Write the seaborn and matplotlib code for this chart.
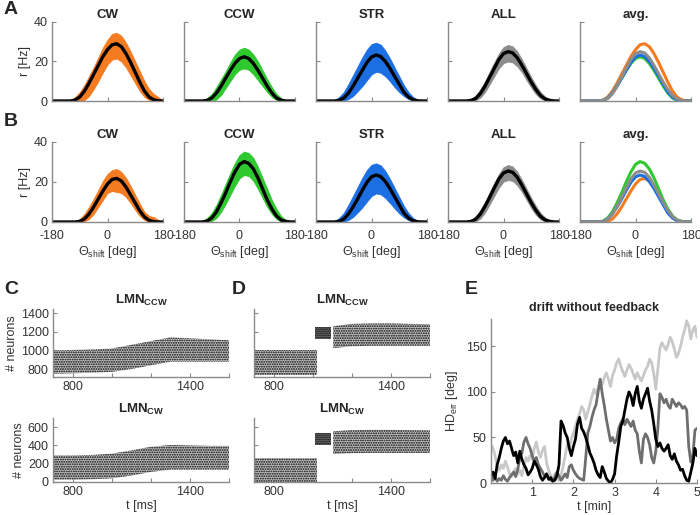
import matplotlib
matplotlib.use('Agg')
import matplotlib.pyplot as plt
import seaborn as sns

# ---- A/B: tuning curves, sampled every 15 deg from -180 to 180
theta = list(range(-180, 181, 15))

a_cw_mean = [0, 0, 0, 0, 0, 0.5, 2, 5, 9, 13.5, 18, 22.5, 26, 28.5, 29, 27.5, 24, 19.5, 14.5, 9.5, 5, 2, 0.6, 0.1, 0]
a_cw_hi = [0, 0, 0, 0, 0.3, 2, 4.5, 8, 12.5, 17, 22, 27, 31, 34, 34.5, 33, 29.5, 25, 20, 15, 10, 6, 3.5, 2, 0]
a_cw_lo = [0, 0, 0, 0, 0, 0, 0, 0.5, 2.5, 6, 10, 14.5, 18.5, 21, 21.5, 20, 17, 13, 9, 5, 2, 0.5, 0, 0, 0]

a_ccw_mean = [0, 0, 0, 0, 0, 0.3, 1.5, 4, 7.5, 11.5, 15.5, 19, 21.5, 22.4, 21.5, 19, 15.5, 11.5, 7.5, 4, 1.5, 0.4, 0, 0, 0]
a_ccw_hi = [0, 0, 0, 0, 0.3, 1.5, 3.5, 7, 11, 15, 19.5, 23.5, 26, 27, 26, 23.5, 20, 15.5, 11, 7, 3.5, 1.5, 0.5, 0, 0]
a_ccw_lo = [0, 0, 0, 0, 0, 0, 0, 0.8, 3, 6.5, 10, 13.5, 15.8, 16.5, 15.8, 13.5, 10.5, 7.5, 4.5, 2, 0.5, 0, 0, 0, 0]

a_str_mean = [0, 0, 0, 0, 0, 0.3, 1.5, 4, 7.5, 11.5, 15.5, 19.5, 22.3, 23.3, 22.5, 20, 16.5, 12.5, 8.5, 4.5, 2, 0.6, 0.1, 0, 0]
a_str_hi = [0, 0, 0, 0, 0.5, 2, 4.5, 8.5, 13, 17.5, 22, 26, 28.8, 29.5, 28.5, 25.5, 21.5, 17, 12.5, 8, 4.5, 2, 0.5, 0, 0]
a_str_lo = [0, 0, 0, 0, 0, 0, 0.2, 1, 2.5, 5, 7.5, 10.5, 13.5, 14.8, 14.3, 12.5, 10, 7, 4.5, 2.5, 1, 0.2, 0, 0, 0]

a_all_mean = [0, 0, 0, 0, 0, 0.3, 1.3, 3.8, 7.5, 12, 16.5, 21, 24, 25, 24.3, 21.8, 18, 13.8, 9.5, 5.8, 2.8, 1, 0.3, 0, 0]
a_all_hi = [0, 0, 0, 0, 0.2, 1, 2.8, 6, 10, 14.8, 19.5, 24, 27.3, 28.4, 27.6, 25, 21, 16.5, 12, 8, 4.5, 2.2, 1, 0.5, 0]
a_all_lo = [0, 0, 0, 0, 0, 0, 0.3, 1.8, 4.5, 8.5, 12.5, 16.5, 19.2, 20, 19.5, 17.5, 14.5, 10.5, 6.8, 3.5, 1.3, 0.3, 0, 0, 0]

b_cw_mean = [0, 0, 0, 0, 0, 0, 0.3, 1.5, 4, 7.5, 11.5, 15.5, 19, 21.3, 21.8, 20.5, 17.5, 13.5, 9.5, 5.5, 2.5, 0.8, 0.2, 0, 0]
b_cw_hi = [0, 0, 0, 0, 0, 0.3, 1.5, 4, 7.5, 11.5, 16, 20.5, 24, 26, 26.5, 25, 22, 18, 13.5, 9, 5, 3, 2.5, 1, 0]
b_cw_lo = [0, 0, 0, 0, 0, 0, 0, 0.3, 1.5, 4, 7.5, 11, 14.5, 15.5, 15, 14.5, 12.5, 9.5, 6, 3, 1, 0.2, 0, 0, 0]

b_ccw_mean = [0, 0, 0, 0, 0, 0.5, 2, 5, 9.5, 14.5, 20, 25, 28.8, 30.2, 29.3, 26.5, 22, 16.5, 11, 6.5, 3, 1, 0.3, 0, 0]
b_ccw_hi = [0, 0, 0, 0, 0.5, 2, 4.5, 8.5, 13.5, 19, 24.5, 29.5, 33.5, 35.2, 34.5, 32, 27.5, 22, 16.5, 11, 6.5, 3, 1, 0.2, 0]
b_ccw_lo = [0, 0, 0, 0, 0, 0, 0.5, 2, 5, 9, 13.5, 18, 21.8, 23.5, 23, 20.5, 16.5, 12, 7.5, 4, 1.5, 0.3, 0, 0, 0]

b_str_mean = [0, 0, 0, 0, 0, 0.3, 1.5, 4, 7.5, 11.5, 15.8, 19.8, 22.6, 23.5, 22.7, 20.2, 16.7, 12.6, 8.5, 4.5, 2, 0.6, 0.1, 0, 0]
b_str_hi = [0, 0, 0, 0, 0.5, 2, 4.5, 8.5, 13, 17.5, 22, 26, 28.6, 29.3, 28.3, 25.5, 21.5, 17, 12.5, 8, 4.5, 2, 0.5, 0, 0]
b_str_lo = [0, 0, 0, 0, 0, 0, 0.2, 1, 2.5, 4.8, 7.3, 10.2, 13, 14.3, 13.8, 12, 9.5, 6.8, 4.3, 2.3, 0.9, 0.2, 0, 0, 0]

b_all_mean = [0, 0, 0, 0, 0, 0.3, 1.4, 4, 7.8, 12.3, 17, 21.5, 24.5, 25.5, 24.8, 22.3, 18.3, 14, 9.6, 5.8, 2.8, 1, 0.3, 0, 0]
b_all_hi = [0, 0, 0, 0, 0.2, 1, 2.8, 6, 10, 14.8, 19.5, 24, 27.4, 28.5, 27.7, 25, 21, 16.5, 12, 8, 4.5, 2.2, 0.8, 0.2, 0]
b_all_lo = [0, 0, 0, 0, 0, 0, 0.3, 1.8, 4.7, 8.8, 13, 17.2, 20.2, 21, 20.5, 18.3, 15, 11, 7, 3.6, 1.3, 0.3, 0, 0, 0]

groups = ['CW', 'CCW', 'STR', 'ALL']
group_colors = ['#f47b20', '#2ec92e', '#1c6fe3', '#8c8c8c']

# ---- C/D: raster envelopes (neuron index band vs time)
c_t = [700, 800, 900, 1000, 1100, 1200, 1300, 1400, 1500, 1600]
c_ccw_lo = [750, 755, 760, 770, 800, 840, 880, 880, 880, 880]
c_ccw_hi = [1000, 1005, 1010, 1020, 1060, 1100, 1140, 1130, 1120, 1110]
c_cw_lo = [25, 25, 30, 40, 70, 110, 135, 135, 135, 135]
c_cw_hi = [290, 290, 295, 310, 345, 385, 405, 400, 395, 395]

d_pre_t = [700, 1020]
d_blk_t = [1010, 1095]
d_post_t = [1105, 1200, 1300, 1400, 1500, 1600]
d_ccw_pre = (740, 1005)
d_ccw_blk = (1120, 1255)
d_ccw_post_lo = [1025, 1045, 1050, 1050, 1050, 1050]
d_ccw_post_hi = [1260, 1285, 1290, 1290, 1285, 1280]
d_cw_pre = (5, 260)
d_cw_blk = (405, 540)
d_cw_post_lo = [305, 315, 318, 318, 318, 318]
d_cw_post_hi = [555, 567, 570, 570, 567, 565]

# ---- E: heading-direction drift, sampled every 0.05 min
t_min = [i * 0.05 for i in range(101)]
drift_black = [8, 12, 5, 20, 28, 38, 46, 50, 43, 46, 38, 30, 34, 22, 35, 26, 20, 16, 9, 12,
               16, 24, 20, 15, 7, 3, 6, 10, 4, 6, 2, 3, 8, 20, 68, 63, 55, 50, 38, 30,
               40, 48, 65, 72, 60, 56, 50, 42, 33, 28, 22, 14, 9, 6, 18, 12, 5, 2, 0, 4,
               10, 30, 45, 62, 68, 80, 92, 100, 95, 85, 98, 106, 90, 82, 92, 98, 104, 90, 80, 65,
               48, 40, 44, 38, 35, 38, 42, 30, 26, 32, 24, 20, 14, 15, 8, 3, 2, 12, 22, 38, 30]
drift_dark = [8, 3, 6, 2, 5, 3, 8, 4, 2, 6, 9, 12, 7, 15, 28, 33, 45, 50, 43, 38,
              30, 24, 28, 20, 16, 12, 7, 10, 5, 3, 2, 6, 12, 8, 3, 6, 10, 6, 18, 20,
              14, 10, 7, 5, 4, 3, 28, 55, 62, 72, 80, 86, 100, 114, 98, 85, 70, 58, 46, 50,
              44, 48, 60, 66, 70, 64, 70, 66, 62, 68, 58, 54, 35, 22, 48, 54, 50, 42, 28, 22,
              35, 60, 98, 94, 88, 92, 85, 82, 92, 88, 84, 88, 86, 82, 84, 80, 40, 23, 30, 58, 60]
drift_light = [42, 38, 30, 18, 14, 20, 16, 24, 18, 10, 7, 12, 16, 10, 14, 8, 18, 28, 24, 30,
               26, 38, 45, 34, 28, 36, 40, 22, 14, 8, 4, 10, 6, 3, 8, 18, 30, 42, 38, 48,
               55, 62, 70, 76, 84, 80, 70, 78, 86, 95, 103, 98, 104, 112, 108, 116, 121, 114, 106, 118,
               124, 132, 136, 128, 122, 117, 124, 130, 126, 120, 114, 121, 116, 112, 118, 124, 128, 136, 132, 120,
               103, 125, 148, 154, 150, 146, 152, 160, 155, 147, 138, 142, 150, 160, 168, 178, 172, 158, 168, 172, 160]

sns.set_style('white')
plt.rcParams['font.family'] = ['Liberation Sans', 'DejaVu Sans']
plt.rcParams['mathtext.fontset'] = 'custom'
plt.rcParams['mathtext.rm'] = 'Liberation Sans'
plt.rcParams['mathtext.it'] = 'Liberation Sans:italic'
plt.rcParams['mathtext.bf'] = 'Liberation Sans:bold'
plt.rcParams['hatch.linewidth'] = 0.9

SPINE = '#8a8a8a'
TXT = '#333333'
FS = 9


def style(ax):
    for s in ['top', 'right']:
        ax.spines[s].set_visible(False)
    for s in ['left', 'bottom']:
        ax.spines[s].set_color(SPINE)
        ax.spines[s].set_linewidth(1.0)
    ax.tick_params(direction='in', length=3, color=SPINE, labelcolor=TXT,
                   labelsize=FS, pad=3, left=True, bottom=True)


fig = plt.figure(figsize=(7, 5.15), dpi=100)
W, H = 700, 515


def add(x0, y_top, w, h):
    return fig.add_axes([x0 / W, 1 - (y_top + h) / H, w / W, h / H])


rows = {
    'A': (22, [(a_cw_mean, a_cw_lo, a_cw_hi), (a_ccw_mean, a_ccw_lo, a_ccw_hi),
               (a_str_mean, a_str_lo, a_str_hi), (a_all_mean, a_all_lo, a_all_hi)]),
    'B': (142, [(b_cw_mean, b_cw_lo, b_cw_hi), (b_ccw_mean, b_ccw_lo, b_ccw_hi),
                (b_str_mean, b_str_lo, b_str_hi), (b_all_mean, b_all_lo, b_all_hi)]),
}
lefts = [52, 184, 316, 448, 580]

for row, (top, curves) in rows.items():
    h = 79 if row == 'A' else 80
    for i in range(5):
        ax = add(lefts[i], top, 111, h)
        style(ax)
        if i < 4:
            mean, lo, hi = curves[i]
            ax.fill_between(theta, lo, hi, color=group_colors[i], lw=0.6)
            sns.lineplot(x=theta, y=mean, color='black', lw=2.4, ax=ax)
            ax.set_title(groups[i], fontsize=9.5, fontweight='bold', pad=3)
        else:
            for k in [0, 1, 2, 3]:
                sns.lineplot(x=theta, y=curves[k][0], color=group_colors[k], lw=2.2, ax=ax)
            ax.set_title('avg.', fontsize=9.5, fontweight='bold', pad=3)
        ax.set_xlim(-180, 180)
        ax.set_ylim(0, 40)
        ax.set_xticks([-180, 0, 180])
        ax.set_yticks([0, 20, 40])
        if i > 0:
            ax.set_yticklabels([])
        else:
            ax.set_ylabel('r [Hz]', fontsize=FS, color=TXT, labelpad=2)
        if row == 'A':
            ax.set_xticklabels([])
        else:
            ax.set_xticklabels(['-180', '0', '180'])
            ax.tick_params(axis='x', pad=6)
            ax.set_xlabel(r'$\Theta_{\mathrm{shift}}$ [deg]', fontsize=FS, color=TXT, labelpad=1)


def raster(ax, t, lo, hi, dense=False):
    ax.fill_between(t, lo, hi, facecolor='#7a7a7a' if dense else '#c4c4c4',
                    edgecolor='black', hatch='........' if dense else '.......', lw=0)


def raster_axes(x0, y_top, h, ylim, yticks, title, labels, xlabel):
    ax = add(x0, y_top, 176, h)
    style(ax)
    ax.set_xlim(700, 1600)
    ax.set_ylim(*ylim)
    ax.set_xticks([800, 1000, 1200, 1400, 1600])
    ax.set_xticklabels(['800', '', '', '1400', ''])
    ax.set_yticks(yticks)
    if labels:
        ax.set_ylabel('# neurons', fontsize=FS, color=TXT, labelpad=2)
    else:
        ax.set_yticklabels([])
    ax.set_title(title, fontsize=9.5, fontweight='bold', pad=4)
    if xlabel:
        ax.set_xlabel('t [ms]', fontsize=FS, color=TXT, labelpad=1)
    return ax


ccw_title = r'LMN$_{\mathbf{CCW}}$'
cw_title = r'LMN$_{\mathbf{CW}}$'

ax = raster_axes(53, 309, 68, (715, 1445), [800, 1000, 1200, 1400], ccw_title, True, False)
raster(ax, c_t, c_ccw_lo, c_ccw_hi)
ax = raster_axes(53, 418, 64, (0, 700), [0, 200, 400, 600], cw_title, True, True)
raster(ax, c_t, c_cw_lo, c_cw_hi)

ax = raster_axes(254, 309, 68, (715, 1445), [800, 1000, 1200, 1400], ccw_title, False, False)
raster(ax, d_pre_t, [d_ccw_pre[0]] * 2, [d_ccw_pre[1]] * 2)
raster(ax, d_blk_t, [d_ccw_blk[0]] * 2, [d_ccw_blk[1]] * 2, dense=True)
raster(ax, d_post_t, d_ccw_post_lo, d_ccw_post_hi)
ax = raster_axes(254, 418, 64, (0, 700), [0, 200, 400, 600], cw_title, False, True)
raster(ax, d_pre_t, [d_cw_pre[0]] * 2, [d_cw_pre[1]] * 2)
raster(ax, d_blk_t, [d_cw_blk[0]] * 2, [d_cw_blk[1]] * 2, dense=True)
raster(ax, d_post_t, d_cw_post_lo, d_cw_post_hi)

# E
ax = add(491, 319, 206, 164)
style(ax)
for y, c in [(drift_light, '#c8c8c8'), (drift_dark, '#6e6e6e'), (drift_black, 'black')]:
    sns.lineplot(x=t_min, y=y, color=c, lw=2.0, ax=ax)
ax.set_xlim(0, 5)
ax.set_ylim(0, 180)
ax.set_xticks([1, 2, 3, 4, 5])
ax.set_yticks([0, 50, 100, 150])
ax.set_title('drift without feedback', fontsize=9, fontweight='bold', pad=6)
ax.set_xlabel('t [min]', fontsize=FS, color=TXT, labelpad=1)
ax.set_ylabel(r'HD$_{\mathrm{err}}$ [deg]', fontsize=FS, color=TXT, labelpad=4)

for letter, x, y in [('A', 4, 10), ('B', 4, 122), ('C', 4, 290), ('D', 232, 290), ('E', 465, 290)]:
    fig.text(x / W, 1 - y / H, letter, fontsize=14, fontweight='bold', va='center', ha='left')

fig.savefig('out.png', dpi=100)
